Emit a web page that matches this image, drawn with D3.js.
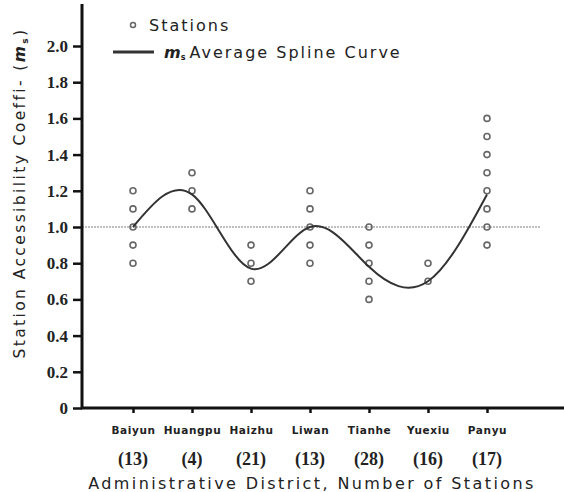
<!DOCTYPE html>
<html lang="en">
<head>
<meta charset="utf-8">
<title>Station accessibility by district</title>
<style>
    body { margin: 0; background: #fff; }
    .yaxis text { font-family: "Liberation Serif", serif; font-weight: bold; font-size: 17px; fill: #222; }
    .xaxis text { font-family: "DejaVu Sans", sans-serif; font-weight: bold; font-size: 10.5px; fill: #222; letter-spacing: 0.6px; }
    .count { font-family: "Liberation Serif", serif; font-weight: bold; font-size: 18px; fill: #222; }
    .title { font-family: "DejaVu Sans", sans-serif; font-size: 16px; fill: #222; letter-spacing: 2.4px; }
    .ytitle { font-family: "DejaVu Sans", sans-serif; font-size: 15.5px; fill: #222; letter-spacing: 2.4px; }
    .legend { font-family: "DejaVu Sans", sans-serif; font-size: 16px; fill: #222; letter-spacing: 2px; }
</style>
</head>
<body>
<script src="https://cdnjs.cloudflare.com/ajax/libs/d3/7.8.5/d3.min.js"></script>
<script>
    var districts = ["Baiyun", "Huangpu", "Haizhu", "Liwan", "Tianhe", "Yuexiu", "Panyu"];
    var counts = [13, 4, 21, 13, 28, 16, 17];
    // distinct station values visible per district
    var stationValues = [
        [1.2, 1.1, 1.0, 0.9, 0.8],
        [1.3, 1.2, 1.1],
        [0.9, 0.8, 0.7],
        [1.2, 1.1, 1.0, 0.9, 0.8],
        [1.0, 0.9, 0.8, 0.7, 0.6],
        [0.8, 0.7],
        [1.6, 1.5, 1.4, 1.3, 1.2, 1.1, 1.0, 0.9]
    ];
    var averages = [1.0, 1.18, 0.77, 1.0, 0.78, 0.7, 1.18];
    var yTicks = [0, 0.2, 0.4, 0.6, 0.8, 1.0, 1.2, 1.4, 1.6, 1.8, 2.0];

    var width = 564, height = 492;
    var svg = d3.select("body").append("svg")
        .attr("width", width)
        .attr("height", height);

    var x = d3.scalePoint()
        .domain(districts)
        .range([133, 487]);
    var y = d3.scaleLinear()
        .domain([0, 2.0])
        .range([408, 46]);

    // reference line at 1.0
    svg.append("line")
        .attr("x1", 82).attr("x2", 540)
        .attr("y1", y(1.0)).attr("y2", y(1.0))
        .attr("stroke", "#aaa")
        .attr("stroke-width", 1.5)
        .attr("stroke-dasharray", "2,1");

    // station points
    var pts = [];
    districts.forEach(function(d, i) {
        stationValues[i].forEach(function(v) { pts.push({d: d, v: v}); });
    });
    svg.selectAll(".pt")
        .data(pts)
        .enter().append("circle")
        .attr("class", "pt")
        .attr("cx", function(p) { return x(p.d); })
        .attr("cy", function(p) { return y(p.v); })
        .attr("r", 3)
        .attr("fill", "none")
        .attr("stroke", "#666")
        .attr("stroke-width", 1.6);

    // spline curve
    var line = d3.line()
        .x(function(d, i) { return x(districts[i]); })
        .y(function(d) { return y(d); })
        .curve(d3.curveNatural);
    svg.append("path")
        .datum(averages)
        .attr("d", line)
        .attr("fill", "none")
        .attr("stroke", "#333")
        .attr("stroke-width", 2);

    // y axis
    var yAxis = svg.append("g")
        .attr("class", "yaxis")
        .attr("transform", "translate(82,0)")
        .call(d3.axisLeft(y).tickValues(yTicks)
            .tickFormat(function(d) { return d === 0 ? "0" : d3.format(".1f")(d); })
            .tickSize(9).tickPadding(5));
    yAxis.select(".domain").remove();
    yAxis.selectAll(".tick line").attr("stroke", "#111").attr("stroke-width", 2.5);
    svg.append("line")
        .attr("x1", 82).attr("x2", 82)
        .attr("y1", 4).attr("y2", 409)
        .attr("stroke", "#111").attr("stroke-width", 3);

    // x axis
    var xAxis = svg.append("g")
        .attr("class", "xaxis")
        .attr("transform", "translate(0,408)")
        .call(d3.axisBottom(x).tickSize(5).tickPadding(14));
    xAxis.select(".domain").remove();
    xAxis.selectAll(".tick line").attr("stroke", "#111").attr("stroke-width", 2.5);
    svg.append("line")
        .attr("x1", 81).attr("x2", 564)
        .attr("y1", 408).attr("y2", 408)
        .attr("stroke", "#111").attr("stroke-width", 3);

    svg.selectAll(".count")
        .data(counts)
        .enter().append("text")
        .attr("class", "count")
        .attr("x", function(d, i) { return x(districts[i]); })
        .attr("y", 465)
        .attr("text-anchor", "middle")
        .text(function(d) { return "(" + d + ")"; });

    svg.append("text")
        .attr("class", "title")
        .attr("x", 312)
        .attr("y", 489)
        .attr("text-anchor", "middle")
        .text("Administrative District, Number of Stations");

    var yt = svg.append("text")
        .attr("class", "ytitle")
        .attr("transform", "translate(25,193) rotate(-90)")
        .attr("text-anchor", "middle");
    yt.append("tspan").text("Station Accessibility Coeffi- (");
    yt.append("tspan").attr("font-style", "italic").attr("font-weight", "bold").text("m");
    yt.append("tspan").attr("font-size", "9px").attr("font-weight", "bold").attr("dy", 3).text("s");
    yt.append("tspan").attr("dy", -3).text(")");

    // legend
    svg.append("circle")
        .attr("cx", 133).attr("cy", 25).attr("r", 2.5)
        .attr("fill", "none").attr("stroke", "#666").attr("stroke-width", 1.5);
    svg.append("text").attr("class", "legend")
        .attr("x", 149).attr("y", 31).text("Stations");
    svg.append("line")
        .attr("x1", 113).attr("x2", 154)
        .attr("y1", 52).attr("y2", 52)
        .attr("stroke", "#333").attr("stroke-width", 3);
    var lt = svg.append("text").attr("class", "legend")
        .attr("x", 164).attr("y", 58);
    lt.append("tspan").attr("font-style", "italic").attr("font-weight", "bold").attr("letter-spacing", "0").text("m");
    lt.append("tspan").attr("font-size", "8px").attr("font-weight", "bold").attr("dy", 2).text("s");
    lt.append("tspan").attr("dy", -2).attr("dx", 2).text("Average Spline Curve");
</script>
</body>
</html>
